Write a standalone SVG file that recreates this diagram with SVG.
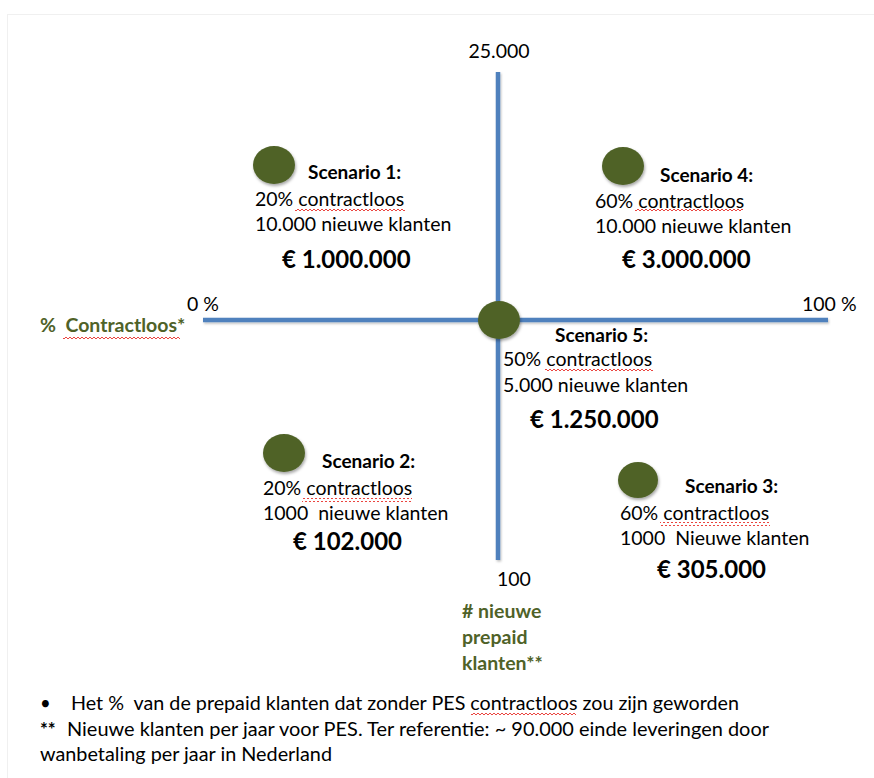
<svg xmlns="http://www.w3.org/2000/svg" width="874" height="778" viewBox="0 0 874 778">
<style>
text{font-family:Lato,"Liberation Sans",sans-serif;fill:#000;white-space:pre;}
.t{font-size:19.5px;}
.h{font-size:19px;font-weight:bold;}
.p{font-size:24px;font-weight:bold;}
.g{font-size:19.5px;font-weight:bold;fill:#4f6228;}
.f{font-size:18.5px;}
.b{font-weight:bold;}
.dot{fill:#4f6228;filter:url(#sh);}
.axis{stroke:#4f81bd;stroke-width:4.5;fill:none;filter:url(#sh2);}
.sq{fill:url(#squig);}
</style>
<defs>
<filter id="sh" x="-30%" y="-30%" width="170%" height="170%"><feDropShadow dx="1" dy="2" stdDeviation="1.8" flood-color="#000" flood-opacity="0.35"/></filter>
<filter id="sh2" filterUnits="userSpaceOnUse" x="0" y="0" width="874" height="778"><feDropShadow dx="1" dy="1.5" stdDeviation="1" flood-color="#000" flood-opacity="0.25"/></filter>
<pattern id="squig" width="4" height="4" patternUnits="userSpaceOnUse"><path d="M0 3 L2 1 L4 3" stroke="#e8302a" stroke-width="0.9" fill="none"/></pattern>
</defs>
<rect x="0" y="0" width="874" height="778" fill="#fff"/>
<rect x="7.5" y="14.5" width="880" height="800" fill="none" stroke="#f0f0f0"/>

<g id="connectors">
<line class="axis" x1="498" y1="72" x2="498" y2="560"/>
<line class="axis" x1="203" y1="320" x2="828" y2="320"/>
</g>

<g id="axis-labels">
<text class="t" x="499" y="58" text-anchor="middle">25.000</text>
<text class="t" x="187" y="311">0 %</text>
<text class="t" x="802" y="311">100 %</text>
<text class="t" x="497" y="586">100</text>
<text class="g" x="40" y="332">%  Contractloos*</text>
<rect class="sq" x="63" y="336" width="117" height="4"/>
<text class="g" x="462" y="618">
<tspan x="462" y="618"># nieuwe</tspan>
<tspan x="462" y="644">prepaid</tspan>
<tspan x="462" y="670">klanten**</tspan>
</text>
</g>

<g id="scenario1">
<ellipse class="dot" cx="274" cy="165" rx="21" ry="19"/>
<text class="h" x="308" y="179">Scenario 1:</text>
<text class="t" x="255" y="206">20% contractloos</text>
<rect class="sq" x="295" y="208" width="110" height="4"/>
<text class="t" x="255" y="231">10.000 nieuwe klanten</text>
<text class="p" x="282" y="268">€ 1.000.000</text>
</g>

<g id="scenario4">
<ellipse class="dot" cx="623" cy="166" rx="21" ry="19"/>
<text class="h" x="660" y="182">Scenario 4:</text>
<text class="t" x="595" y="208">60% contractloos</text>
<rect class="sq" x="635" y="208" width="108" height="4"/>
<text class="t" x="595" y="233">10.000 nieuwe klanten</text>
<text class="p" x="622" y="268">€ 3.000.000</text>
</g>

<g id="scenario5">
<ellipse class="dot" cx="499" cy="320" rx="21" ry="19"/>
<text class="h" x="555" y="342">Scenario 5:</text>
<text class="t" x="503" y="366">50% contractloos</text>
<rect class="sq" x="545" y="368" width="108" height="4"/>
<text class="t" x="503" y="392">5.000 nieuwe klanten</text>
<text class="p" x="530" y="428">€ 1.250.000</text>
</g>

<g id="scenario2">
<ellipse class="dot" cx="284" cy="453" rx="21" ry="19"/>
<text class="h" x="322" y="468">Scenario 2:</text>
<text class="t" x="263" y="495">20% contractloos</text>
<rect class="sq" x="302" y="498" width="110" height="4"/>
<text class="t" x="263" y="520">1000  nieuwe klanten</text>
<text class="p" x="293" y="550">€ 102.000</text>
</g>

<g id="scenario3">
<ellipse class="dot" cx="638" cy="480" rx="20" ry="18"/>
<text class="h" x="685" y="493">Scenario 3:</text>
<text class="t" x="620" y="520">60% contractloos</text>
<rect class="sq" x="660" y="522" width="110" height="4"/>
<text class="t" x="620" y="545">1000  Nieuwe klanten</text>
<text class="p" x="657" y="578">€ 305.000</text>
</g>

<g id="footnotes">
<text class="f" x="40" y="710">•</text>
<text class="f" x="71" y="710" textLength="668" lengthAdjust="spacingAndGlyphs">Het %  van de prepaid klanten dat zonder PES contractloos zou zijn geworden</text>
<rect class="sq" x="471" y="711" width="105" height="4"/>
<text class="f b" x="40" y="736">**</text>
<text class="f" x="67" y="736" textLength="702" lengthAdjust="spacingAndGlyphs">Nieuwe klanten per jaar voor PES. Ter referentie: ~ 90.000 einde leveringen door</text>
<text class="f" x="40" y="761" textLength="292" lengthAdjust="spacingAndGlyphs">wanbetaling per jaar in Nederland</text>
</g>
</svg>
